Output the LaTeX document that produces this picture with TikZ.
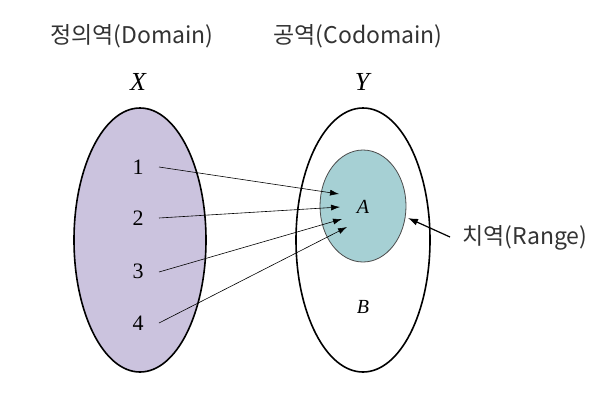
\documentclass[tikz,border=0pt]{standalone}
\usepackage{fontspec}
\newfontfamily\kr{Noto Sans CJK KR}
\newfontfamily\sr{Liberation Serif}
\usetikzlibrary{shapes.geometric,arrows.meta}
\definecolor{lav}{HTML}{CBC3DE}
\definecolor{teal}{HTML}{A6D0D4}
\tikzset{
  set/.style={ellipse, draw=black, line width=1.6pt, inner sep=0pt},
  lbl/.style={font=\kr\fontsize{23}{26}\selectfont, text=black!80, inner sep=0pt},
  var/.style={font=\sr\fontsize{26}{28}\selectfont\itshape, inner sep=0pt},
  num/.style={font=\sr\fontsize{22}{24}\selectfont, inner sep=0pt},
  arr/.style={-{Latex[length=9pt,width=6pt]}, line width=0.6pt},
}
\begin{document}
\begin{tikzpicture}[x=1pt,y=-1pt]
\useasboundingbox (0,0) rectangle (612,402);
\node[set, fill=lav, minimum width=132pt, minimum height=264pt] (X) at (140,240) {};
\node[set, fill=white, minimum width=134pt, minimum height=264pt] (Y) at (363,240) {};
\node[ellipse, draw=black!70, line width=0.8pt, fill=teal, minimum width=86pt, minimum height=112pt, inner sep=0pt] (A) at (363,206) {};
\node[lbl] (dom) at (132,36) {정의역(Domain)};
\node[lbl] (cod) at (358,36) {공역(Codomain)};
\node[lbl] (rng) at (525,238) {치역(Range)};
\node[var] (xl) at (138,82) {X};
\node[var] (yl) at (362,82) {Y};
\node[num] (n1) at (138,167) {1};
\node[num] (n2) at (138,218) {2};
\node[num] (n3) at (138,271) {3};
\node[num] (n4) at (138,323) {4};
\node[var, font=\sr\fontsize{20}{22}\selectfont\itshape] (al) at (363,207) {A};
\node[var, font=\sr\fontsize{20}{22}\selectfont\itshape] (bl) at (363,307) {B};
\coordinate (t1) at (339,194);
\coordinate (t2) at (340,207);
\coordinate (t3) at (342,219);
\coordinate (t4) at (347,227);
\coordinate (s1) at (159,167);
\coordinate (s2) at (159,218);
\coordinate (s3) at (159,272);
\coordinate (s4) at (159,323);
\draw[arr] (s1) -- (t1);
\draw[arr] (s2) -- (t2);
\draw[arr] (s3) -- (t3);
\draw[arr] (s4) -- (t4);
\coordinate (rs) at (450,237);
\coordinate (rt) at (408,218);
\draw[-{Latex[length=10pt,width=7pt]}, line width=1.2pt] (rs) -- (rt);
\end{tikzpicture}
\end{document}
